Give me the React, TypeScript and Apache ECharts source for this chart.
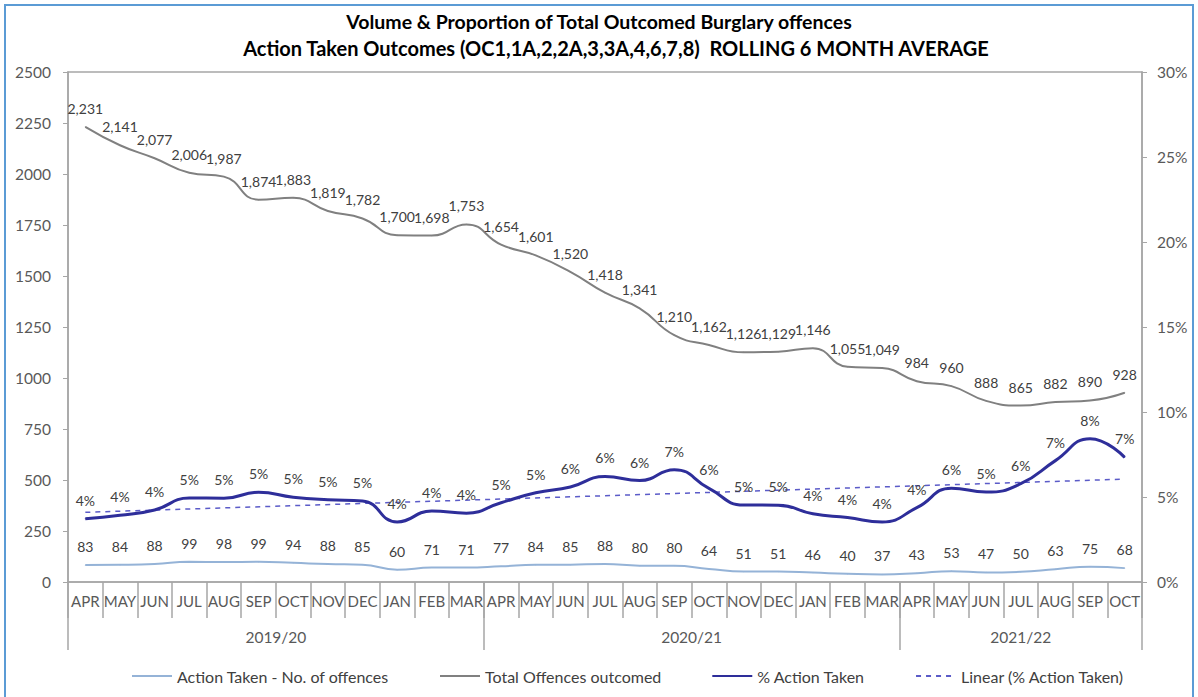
import React, { useEffect, useRef } from "react";
import * as echarts from "echarts";

const months = ["APR","MAY","JUN","JUL","AUG","SEP","OCT","NOV","DEC","JAN","FEB","MAR","APR","MAY","JUN","JUL","AUG","SEP","OCT","NOV","DEC","JAN","FEB","MAR","APR","MAY","JUN","JUL","AUG","SEP","OCT"];
const years = ["2019/20", "2020/21", "2021/22"];
const yearBoundaries = [0, 12, 24, 31];

const actionTaken = [83,84,88,99,98,99,94,88,85,60,71,71,77,84,85,88,80,80,64,51,51,46,40,37,43,53,47,50,63,75,68];
const totalOutcomed = [2231,2141,2077,2006,1987,1874,1883,1819,1782,1700,1698,1753,1654,1601,1520,1418,1341,1210,1162,1126,1129,1146,1055,1049,984,960,888,865,882,890,928];
const pctAction = [3.72,3.92,4.24,4.94,4.93,5.28,4.99,4.84,4.77,3.53,4.18,4.05,4.66,5.25,5.59,6.21,5.97,6.61,5.51,4.53,4.52,4.01,3.79,3.53,4.37,5.52,5.29,5.78,7.14,8.43,7.33];
const linearTrend: [number, number][] = [[0, 4.1], [30, 6.05]];

const leftTicks = { min: 0, max: 2500, interval: 250 };
const rightTicks = { min: 0, max: 30, interval: 5 };

const FONT = 'Lato, "Liberation Sans", sans-serif';
const AXIS = "#A6A6A6";
const TXT = "#404040";
const TICKTXT = "#595959";

export default function App() {
  const ref = useRef<HTMLDivElement>(null);
  useEffect(() => {
    if (!ref.current) return;
    const chart = echarts.init(ref.current, null, { renderer: "svg" });
    const yearLabelPos = years.map((_, i) => (yearBoundaries[i] + yearBoundaries[i + 1]) / 2);
    const labelStyle = { show: true, position: "top", distance: 11, color: TXT, fontSize: 14, fontFamily: FONT };
    chart.setOption({
      animation: false,
      backgroundColor: "#fff",
      title: [
        { text: "Volume & Proportion of Total Outcomed Burglary offences", left: "center", top: 6,
          textStyle: { fontFamily: FONT, fontSize: 19.5, fontWeight: "bold", color: "#000" } },
        { text: "Action Taken Outcomes (OC1,1A,2,2A,3,3A,4,6,7,8)  ROLLING 6 MONTH AVERAGE", left: 611, textAlign: "center", top: 33,
          textStyle: { fontFamily: FONT, fontSize: 20, fontWeight: "bold", color: "#000" } },
      ],
      grid: { left: 68, right: 56, top: 72, bottom: 115, show: true, borderColor: AXIS, borderWidth: 1.5 },
      legend: {
        left: 126, bottom: 8, itemGap: 50, itemWidth: 40, itemHeight: 10,
        itemStyle: { opacity: 0 },
        textStyle: { fontFamily: FONT, fontSize: 16, color: TXT },
        data: ["Action Taken - No. of offences", "Total Offences outcomed", "% Action Taken", "Linear (% Action Taken)"],
      },
      xAxis: [
        {
          type: "category", data: months, position: "bottom",
          axisLine: { lineStyle: { color: AXIS, width: 1.5 } },
          axisTick: { show: true, interval: 0, length: 36, lineStyle: { color: AXIS, width: 1.5 } },
          axisLabel: { interval: 0, margin: 11, fontFamily: FONT, fontSize: 15, color: TICKTXT },
          splitLine: { show: false },
        },
        {
          type: "value", min: 0, max: 31, position: "bottom",
          axisLine: { show: false },
          axisTick: { show: true, customValues: yearBoundaries, length: 68, lineStyle: { color: AXIS, width: 1.5 } },
          axisLabel: {
            customValues: yearLabelPos, margin: 47, fontFamily: FONT, fontSize: 15.5, color: TICKTXT,
            formatter: (v: number) => { const i = yearLabelPos.indexOf(v); return i >= 0 ? years[i] : ""; },
          },
          splitLine: { show: false },
        },
      ],
      yAxis: [
        {
          type: "value", position: "left", ...leftTicks,
          axisLine: { show: true, lineStyle: { color: AXIS, width: 1.5 } },
          axisTick: { show: true, length: 5, lineStyle: { color: AXIS } },
          axisLabel: { margin: 17, fontFamily: FONT, fontSize: 15.5, color: TICKTXT, formatter: (v: number) => String(v) },
          splitLine: { show: false },
        },
        {
          type: "value", position: "right", ...rightTicks,
          axisLine: { show: true, lineStyle: { color: AXIS, width: 1.5 } },
          axisTick: { show: true, length: 5, lineStyle: { color: AXIS } },
          axisLabel: { margin: 15, fontFamily: FONT, fontSize: 15.5, color: TICKTXT, formatter: "{value}%" },
          splitLine: { show: false },
        },
      ],
      series: [
        {
          name: "Action Taken - No. of offences", type: "line", smooth: true, symbol: "circle", symbolSize: 1,
          data: actionTaken, color: "#95B3D7", lineStyle: { width: 2, color: "#95B3D7" },
          label: { ...labelStyle },
        },
        {
          name: "Total Offences outcomed", type: "line", smooth: true, symbol: "circle", symbolSize: 1,
          data: totalOutcomed, color: "#808080", lineStyle: { width: 2, color: "#808080" },
          label: { ...labelStyle, formatter: (p: any) => Number(p.value).toLocaleString("en-US") },
        },
        {
          name: "% Action Taken", type: "line", smooth: true, symbol: "circle", symbolSize: 1, yAxisIndex: 1,
          data: pctAction, color: "#2E2E9A", lineStyle: { width: 3, color: "#2E2E9A" },
          label: { ...labelStyle, formatter: (p: any) => Math.round(p.value) + "%" },
        },
        {
          name: "Linear (% Action Taken)", type: "line", symbol: "none", yAxisIndex: 1,
          data: linearTrend, color: "#5B5BC8", lineStyle: { width: 1.5, type: [5, 5], color: "#5B5BC8" },
          z: 1,
        },
      ],
      graphic: [
        { type: "rect", silent: true, z: 100, shape: { x: 5, y: 5, width: 1188, height: 700 },
          style: { fill: "none", stroke: "#5B9BD5", lineWidth: 2 } },
      ],
    });
    return () => chart.dispose();
  }, []);
  return <div ref={ref} style={{ position: "fixed", left: 0, top: 0, width: 1198, height: 697 }} />;
}
